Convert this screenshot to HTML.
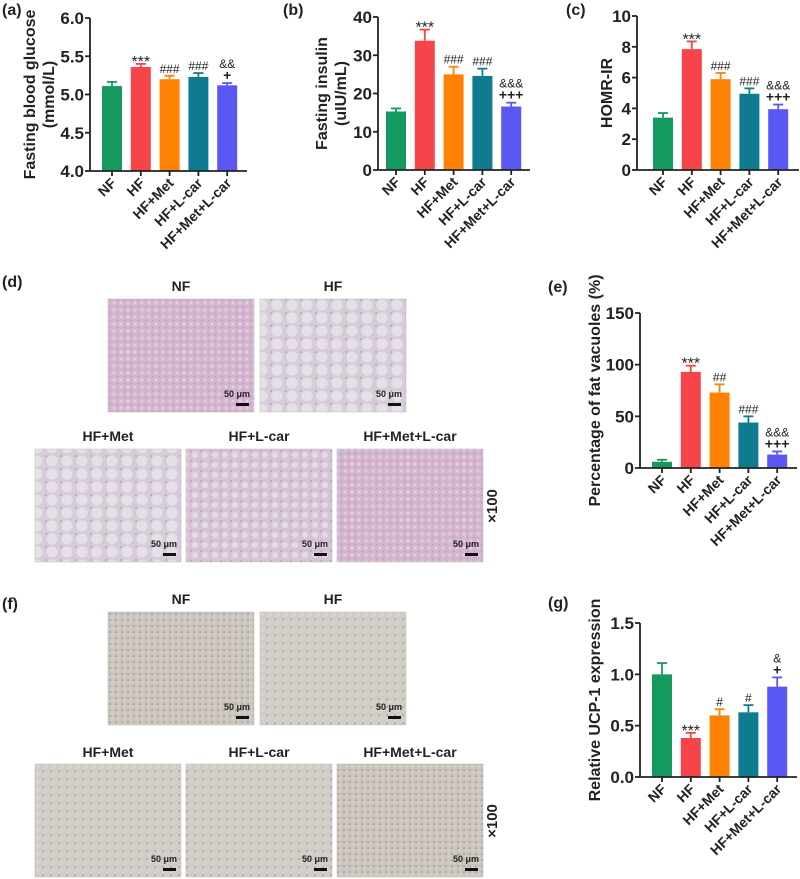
<!DOCTYPE html>
<html><head><meta charset="utf-8">
<style>
html,body{margin:0;padding:0;background:#fff;}
svg{display:block;font-family:"Liberation Sans",sans-serif;}
</style></head>
<body>
<svg id="fig" width="800" height="879" viewBox="0 0 800 879" xmlns="http://www.w3.org/2000/svg">
<defs>
<pattern id="patPink" width="7" height="7" patternUnits="userSpaceOnUse"><rect width="7" height="7" fill="#d3b5cf"/><circle cx="2" cy="2" r="1.5" fill="#e2d2e0"/><circle cx="5.5" cy="5.5" r="0.8" fill="#bf94bb"/></pattern>
<pattern id="patLight" width="15" height="13" patternUnits="userSpaceOnUse"><rect width="15" height="13" fill="#d8cbd9"/><circle cx="7" cy="6" r="5.5" fill="#e3e1e6"/><circle cx="1" cy="1" r="1" fill="#c29cc2"/></pattern>
<pattern id="patMid" width="10" height="10" patternUnits="userSpaceOnUse"><rect width="10" height="10" fill="#d6c4d6"/><circle cx="5" cy="5" r="3" fill="#e2dce4"/><circle cx="1" cy="1" r="1" fill="#c49cc4"/></pattern>
<pattern id="patTan" width="6" height="6" patternUnits="userSpaceOnUse"><rect width="6" height="6" fill="#cdc6bc"/><circle cx="2" cy="2" r="0.8" fill="#8a80ac"/><circle cx="4.5" cy="4.5" r="1.2" fill="#d8d3ca"/></pattern>
<pattern id="patTan2" width="8" height="8" patternUnits="userSpaceOnUse"><rect width="8" height="8" fill="#d1cdc5"/><circle cx="3" cy="3" r="0.8" fill="#8e86b0"/><circle cx="6" cy="6" r="1.5" fill="#dbd8d1"/></pattern>
</defs>
</svg>
<script>
const groups = ["NF","HF","HF+Met","HF+L-car","HF+Met+L-car"];
const colors = ["#149a5f","#f5454a","#ff8205","#0f7b91","#5b57f5"];
const aValues = [5.11,5.36,5.20,5.23,5.12];
const aErrors = [0.055,0.04,0.045,0.05,0.03];
const aMarks = [[],["***"],["###"],["###"],["&&","+"]];
const aTicks = [4.0,4.5,5.0,5.5,6.0];
const bValues = [15.3,33.8,25.0,24.6,16.6];
const bErrors = [0.8,2.9,2.0,1.9,1.0];
const bMarks = [[],["***"],["###"],["###"],["&&&","+++"]];
const bTicks = [0,10,20,30,40];
const cValues = [3.4,7.85,5.9,4.95,3.95];
const cErrors = [0.3,0.5,0.4,0.35,0.3];
const cMarks = [[],["***"],["###"],["###"],["&&&","+++"]];
const cTicks = [0,2,4,6,8,10];
const eValues = [6,93,73,44,13];
const eErrors = [2,6,8,6,3];
const eMarks = [[],["***"],["##"],["###"],["&&&","+++"]];
const eTicks = [0,50,100,150];
const gValues = [1.0,0.38,0.60,0.63,0.88];
const gErrors = [0.11,0.05,0.06,0.07,0.09];
const gMarks = [[],["***"],["#"],["#"],["&","+"]];
const gTicks = [0.0,0.5,1.0,1.5];

const svg = document.getElementById('fig');
const NS = "http://www.w3.org/2000/svg";
function mk(tag, attrs, parent){
  const e = document.createElementNS(NS, tag);
  for (const k in attrs) e.setAttribute(k, attrs[k]);
  (parent||svg).appendChild(e);
  return e;
}
function txt(s, attrs, parent){ const t = mk('text', attrs, parent); t.textContent = s; return t; }

function chart(id, o){
  const g = mk('g', {});
  
  
  const yScale = v => o.y0 - (v - o.min) / (o.max - o.min) * (o.y0 - o.y1);
  const xc = i => o.x0 + o.first + i * o.step;
  for (let i = 0; i < o.values.length; i++) {
    const v = o.values[i], e = o.errors[i], cx = xc(i);
    const top = yScale(v), et = yScale(v + e);
    const ln = mk('line', {x1:cx, x2:cx, y1:top, y2:et, stroke:colors[i], 'stroke-width':1.8}, g);
    
    
    const cap = mk('line', {x1:cx-5, x2:cx+5, y1:et, y2:et, stroke:colors[i], 'stroke-width':1.8}, g);
    
    
    const r = mk('rect', {x:cx-o.bw/2, y:top, width:o.bw, height:o.y0-top, fill:colors[i]}, g);
    
    
    const m = o.marks[i];
    for (let k = 0; k < m.length; k++) {
      const yy = et - 3 - (m.length - 1 - k) * 12;
      const isStar = m[k].indexOf('*') >= 0, isPlus = m[k].indexOf('+') >= 0;
      const t = txt(m[k], {x:cx, y:yy + (isStar?6:0), 'text-anchor':'middle', 'font-size': isStar?16:(isPlus?14:12), 'font-weight': isPlus?'bold':'normal', fill:'#222'}, g);
      
      
    }
    const tk = mk('line', {x1:cx, x2:cx, y1:o.y0, y2:o.y0+5, stroke:'#222', 'stroke-width':1.8}, g);
    
    
    const lb = txt(groups[i], {x:cx+5, y:o.y0+13, 'text-anchor':'end', 'font-size':14, 'font-weight':'bold', fill:'#222', transform:`rotate(-45 ${cx+5} ${o.y0+13})`}, g);
    
    
  }
  const ya = mk('line', {x1:o.x0, x2:o.x0, y1:o.y1, y2:o.y0, stroke:'#222', 'stroke-width':1.8}, g);
  
  
  const xa = mk('line', {x1:o.x0, x2:o.xEnd, y1:o.y0, y2:o.y0, stroke:'#222', 'stroke-width':1.8}, g);
  
  
  for (const t of o.ticks) {
    const y = yScale(t);
    const l = mk('line', {x1:o.x0-5, x2:o.x0, y1:y, y2:y, stroke:'#222', 'stroke-width':1.8}, g);
    
    
    const tl = txt(t.toFixed(o.dec), {x:o.x0-6, y:y+6, 'text-anchor':'end', 'font-size':17, 'font-weight':'bold', fill:'#222'}, g);
    
    
  }
  const cy = (o.y0 + o.y1) / 2;
  const tt = mk('text', {x:o.tx, y:cy, 'text-anchor':'middle', 'font-size':16, 'font-weight':'bold', fill:'#222', transform:`rotate(-90 ${o.tx} ${cy})`}, g);
  
  
  o.title.forEach((s, k) => { const sp = mk('tspan', {x:o.tx, dy: k===0 ? (o.title.length>1?-3:0) : 19}, tt); sp.textContent = s; });
  const pl = txt(o.letter, {x:o.lx, y:o.ly, 'font-size':16, 'font-weight':'bold', fill:'#222'}, g);
  
  
}

chart('a', {values:aValues, errors:aErrors, marks:aMarks, ticks:aTicks, min:4, max:6, dec:1, x0:90, xEnd:247, y0:171, y1:18, first:22, step:28.8, bw:20, title:['Fasting blood glucose','(mmol/L)'], tx:38, letter:'(a)', lx:2, ly:15});
chart('b', {values:bValues, errors:bErrors, marks:bMarks, ticks:bTicks, min:0, max:40, dec:0, x0:378, xEnd:530, y0:170, y1:17, first:18, step:28.8, bw:20, title:['Fasting insulin','(uIU/mL)'], tx:330, letter:'(b)', lx:283, ly:15});
chart('c', {values:cValues, errors:cErrors, marks:cMarks, ticks:cTicks, min:0, max:10, dec:0, x0:637, xEnd:799, y0:170, y1:16, first:26, step:28.8, bw:20, title:['HOMR-IR'], tx:612, letter:'(c)', lx:566, ly:15});
chart('e', {values:eValues, errors:eErrors, marks:eMarks, ticks:eTicks, min:0, max:150, dec:0, x0:640, xEnd:797, y0:468, y1:313, first:22, step:28.8, bw:20, title:['Percentage of fat vacuoles (%)'], tx:600, letter:'(e)', lx:548, ly:292});
chart('g', {values:gValues, errors:gErrors, marks:gMarks, ticks:gTicks, min:0, max:1.5, dec:1, x0:640, xEnd:797, y0:777, y1:623, first:22, step:28.8, bw:20, title:['Relative UCP-1 expression'], tx:600, letter:'(g)', lx:548, ly:608});

function micro(id, letter, ly, top, bot, labTop, labBot, fills){
  const g = mk('g', {});
  
  
  const pl = txt(letter, {x:2, y:ly, 'font-size':16, 'font-weight':'bold', fill:'#222'}, g);
  
  
  const boxes = [[108,top],[260,top],[35,bot],[186,bot],[337,bot]];
  boxes.forEach((b, i) => {
    const r = mk('rect', {x:b[0], y:b[1], width:146, height:113, fill:fills[i], stroke:'#bbb', 'stroke-width':0.5}, g);
    
    
    const lab = txt(groups[i], {x:b[0]+73, y:(i<2?labTop:labBot), 'text-anchor':'middle', 'font-size':14, 'font-weight':'bold', fill:'#222'}, g);
    
    
    const sb = txt('50 μm', {x:b[0]+142, y:b[1]+98, 'text-anchor':'end', 'font-size':9, 'font-weight':'bold', fill:'#222'}, g);
    
    
    const bar = mk('rect', {x:b[0]+128, y:b[1]+104, width:13, height:3, fill:'#111'}, g);
    
    
  });
  const mg = txt('×100', {x:497, y:bot+57, 'text-anchor':'middle', 'font-size':15, 'font-weight':'bold', fill:'#222', transform:`rotate(-90 497 ${bot+57})`}, g);
  
  
}
micro('d', '(d)', 287, 299, 449, 291, 441, ['url(#patPink)','url(#patLight)','url(#patLight)','url(#patMid)','url(#patPink)']);
micro('f', '(f)', 609, 612, 764, 604, 757, ['url(#patTan)','url(#patTan2)','url(#patTan2)','url(#patTan2)','url(#patTan)']);
</script>
</body></html>
